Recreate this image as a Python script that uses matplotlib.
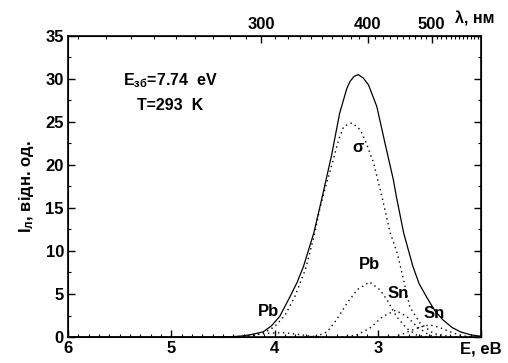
import numpy as np
import matplotlib.pyplot as plt
from matplotlib.ticker import MultipleLocator, FixedLocator, NullFormatter

plt.rcParams['font.family'] = ['Liberation Sans', 'DejaVu Sans']
plt.rcParams['font.weight'] = 'bold'
plt.rcParams['mathtext.fontset'] = 'custom'
plt.rcParams['mathtext.rm'] = 'Liberation Sans:bold'
plt.rcParams['mathtext.bf'] = 'Liberation Sans:bold'
plt.rcParams['mathtext.it'] = 'Liberation Sans:bold'

# сумарний спектр (суцільна лінія)
e_total = [6.0, 4.6, 4.4, 4.33, 4.24, 4.11, 4.03, 3.95, 3.85, 3.78, 3.72, 3.62, 3.55,
           3.45, 3.37, 3.30, 3.27, 3.23, 3.19, 3.14, 3.09, 3.01, 2.93, 2.85, 2.82,
           2.75, 2.66, 2.60, 2.53, 2.45, 2.37, 2.28, 2.20, 2.10, 2.01]
i_total = [0.0, 0.0, 0.05, 0.1, 0.25, 0.6, 1.3, 2.4, 4.7, 6.4, 8.2, 12.1, 15.7,
           21.0, 26.0, 28.9, 29.7, 30.3, 30.5, 30.1, 29.3, 26.8, 22.5, 18.3, 16.3,
           12.1, 8.2, 6.2, 4.7, 3.1, 2.0, 1.1, 0.6, 0.25, 0.1]

# σ-смуга
e_sigma = [4.5, 4.3, 4.2, 4.1, 4.0, 3.9, 3.8, 3.7, 3.62, 3.56, 3.51, 3.45, 3.38, 3.33,
           3.25, 3.17, 3.11, 3.04, 2.96, 2.88, 2.81, 2.75, 2.69, 2.59, 2.46, 2.3, 2.1]
i_sigma = [0.0, 0.05, 0.2, 0.5, 1.2, 2.5, 4.8, 7.9, 11.6, 15.0, 17.3, 19.8, 22.9, 24.5,
           24.9, 24.1, 22.5, 20.2, 16.3, 12.1, 9.7, 6.6, 3.5, 1.6, 0.4, 0.05, 0.0]

# Pb-смуга (3.1 еВ)
e_pb = [3.70, 3.59, 3.49, 3.40, 3.30, 3.20, 3.08, 2.98, 2.91, 2.82, 2.72, 2.62, 2.50]
i_pb = [0.0, 0.1, 0.6, 2.0, 3.9, 5.5, 6.4, 5.5, 4.3, 2.4, 1.0, 0.2, 0.0]

# Pb-смуга (4 еВ)
e_pb2 = [4.45, 4.3, 4.2, 4.05, 3.9, 3.8, 3.65, 3.5]
i_pb2 = [0.0, 0.1, 0.25, 0.45, 0.5, 0.35, 0.1, 0.0]

# Sn-смуга (2.85 еВ)
e_sn = [3.35, 3.21, 3.08, 2.95, 2.83, 2.72, 2.62, 2.50, 2.40]
i_sn = [0.0, 0.2, 1.0, 2.4, 3.1, 2.4, 1.2, 0.2, 0.0]

# Sn-смуга (2.5 еВ)
e_sn2 = [2.85, 2.75, 2.65, 2.55, 2.49, 2.40, 2.30, 2.20, 2.10]
i_sn2 = [0.0, 0.4, 0.9, 1.3, 1.4, 1.1, 0.6, 0.2, 0.0]

fig = plt.figure(figsize=(5.08, 3.63), dpi=100)
ax = fig.add_axes([0.134, 0.0716, 0.813, 0.8294])

dots = (0, (1, 2.6))
ax.plot(e_total, i_total, color='black', lw=0.9)
for e, i in [(e_sigma, i_sigma), (e_pb, i_pb), (e_pb2, i_pb2), (e_sn, i_sn), (e_sn2, i_sn2)]:
    ax.plot(e, i, color='black', lw=1.0, linestyle=dots)

ax.set_xlim(6, 2)
ax.set_ylim(0, 35)

fs = 12
ax.set_xticks([6, 5, 4, 3, 2])
ax.set_xticklabels(['6', '5', '4', '3', 'E, eB'])
ax.xaxis.set_minor_locator(MultipleLocator(0.1))
ax.yaxis.set_major_locator(MultipleLocator(5))
ax.yaxis.set_minor_locator(MultipleLocator(2.5))
ax.tick_params(axis='both', which='major', direction='in', length=5, width=1,
               labelsize=fs, right=True, pad=3)
ax.tick_params(axis='both', which='minor', direction='in', length=2.5, width=0.8,
               right=True)
for lab in ax.get_xticklabels() + ax.get_yticklabels():
    lab.set_fontweight('bold')
for sp in ax.spines.values():
    sp.set_linewidth(1.2)

# верхня вісь: довжина хвилі
top = ax.twiny()
top.set_xlim(ax.get_xlim())
lam_major = [300, 400, 500]
lam_minor = list(range(210, 621, 10))
top.xaxis.set_major_locator(FixedLocator([1239.8 / l for l in lam_major]))
top.xaxis.set_minor_locator(FixedLocator([1239.8 / l for l in lam_minor]))
top.set_xticklabels([str(l) for l in lam_major])
top.xaxis.set_minor_formatter(NullFormatter())
top.tick_params(which='major', direction='in', length=5, width=1, labelsize=fs, pad=3)
top.tick_params(which='minor', direction='in', length=2.5, width=0.8)
for lab in top.get_xticklabels():
    lab.set_fontweight('bold')
top.text(0.985, 1.03, 'λ, нм', transform=top.transAxes, ha='center', va='bottom',
         fontsize=11.5, fontweight='bold')

ax.set_ylabel(r'$\mathbf{I_{л}}$, відн. од.', fontsize=fs, fontweight='bold', labelpad=7)

ax.text(5.47, 29.8, r'E$_{зб}$=7.74  eV', fontsize=11.5, fontweight='bold', va='center')
ax.text(5.33, 26.9, 'T=293  K', fontsize=11.5, fontweight='bold', va='center')

ax.text(3.19, 22.0, 'σ', fontsize=fs, fontweight='bold', ha='center', va='center')
ax.text(3.08, 8.4, 'Pb', fontsize=fs, fontweight='bold', ha='center', va='center')
ax.text(2.80, 5.1, 'Sn', fontsize=fs, fontweight='bold', ha='center', va='center')
ax.text(2.45, 2.75, 'Sn', fontsize=fs, fontweight='bold', ha='center', va='center')
ax.text(4.06, 2.95, 'Pb', fontsize=fs, fontweight='bold', ha='center', va='center')

fig.savefig('out.png', dpi=100)
